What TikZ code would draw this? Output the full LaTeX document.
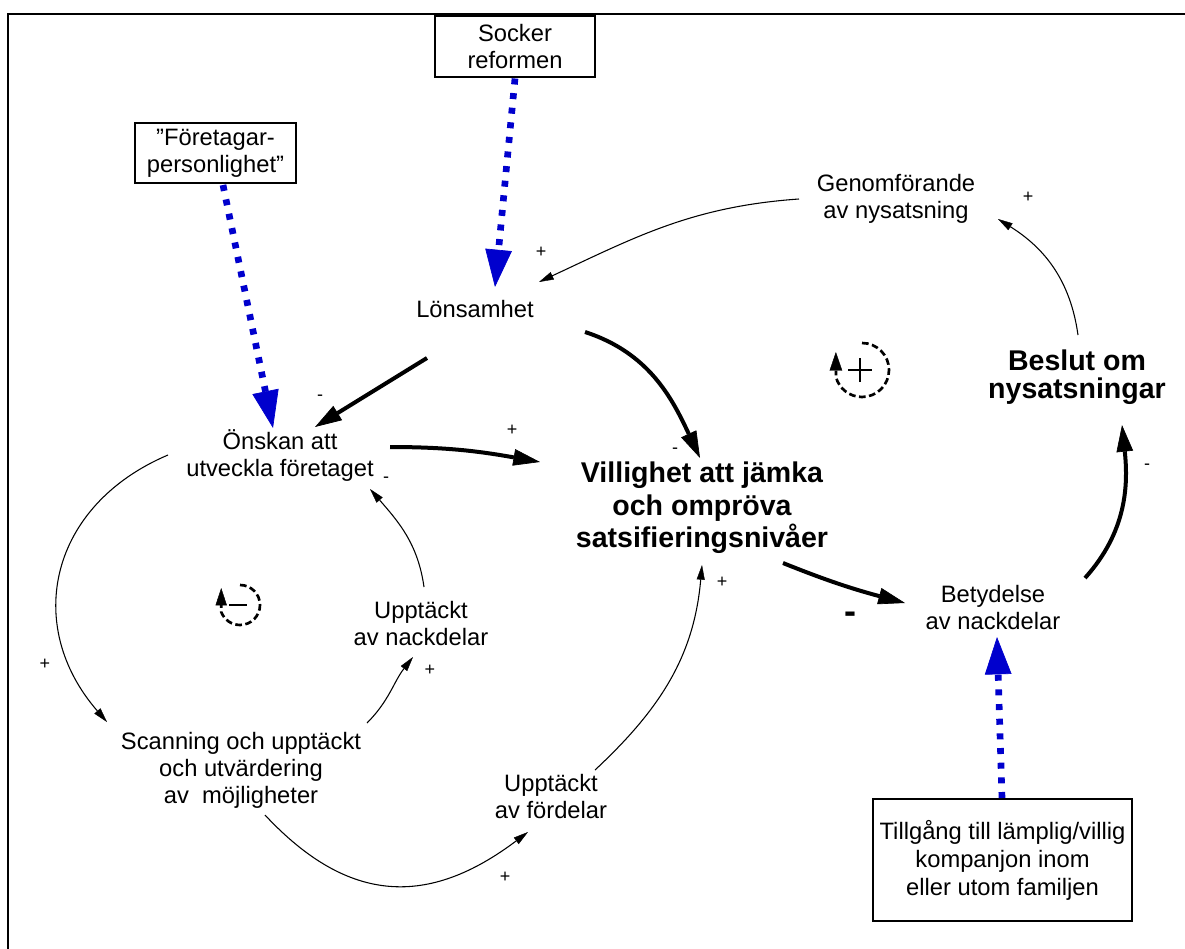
\documentclass[tikz,border=0pt]{standalone}
\usepackage{fontspec}
\setmainfont{Liberation Sans}
\usetikzlibrary{arrows.meta,calc}
\definecolor{dblue}{RGB}{0,0,205}
\begin{document}
\begin{tikzpicture}[x=0.75pt,y=-0.75pt,
  txt/.style={align=center,inner sep=0pt,font=\fontsize{17.8}{20.25}\selectfont},
  boldtxt/.style={align=center,inner sep=0pt,font=\fontsize{21.4}{21}\selectfont\bfseries},
  boxed/.style={draw,line width=1pt,align=center,inner sep=0pt,font=\fontsize{17.8}{20.25}\selectfont},
  lbl/.style={inner sep=0pt,font=\fontsize{13.5}{13.5}\selectfont},
  thickarr/.style={line width=3pt,-{Triangle[length=20pt,width=12.5pt,line width=0.5pt]}},
  thinarr/.style={line width=0.8pt,-{Triangle[length=11pt,width=6pt,line width=0.3pt]}},
  bluearr/.style={dblue,line width=5pt,dash pattern=on 4.5pt off 6.5pt,-{Triangle[length=28pt,width=20pt,line width=0.5pt]}},
  loopsym/.style={line width=2pt,dash pattern=on 5pt off 2.6pt}
]
\useasboundingbox (0,0) rectangle (1185,949);
% frame
\draw[line width=2pt] (8,949) -- (8,14) -- (1185,14);

% boxes
\node[boxed,minimum width=120pt,minimum height=45.75pt] (soc) at (515,46.5) {Socker\\reformen};
\node[boxed,minimum width=120.75pt,minimum height=45pt] (fp) at (215.5,153) {\symbol{34}Företagar-\\personlighet\symbol{34}};
\node[boxed,minimum width=194.25pt,minimum height=91.5pt,font=\fontsize{17.8}{21}\selectfont] (till) at (1002.5,860) {Tillgång till lämplig/villig\\kompanjon inom\\eller utom familjen};

% variables
\node[txt] (lons) at (475,309) {Lönsamhet};
\node[txt] (gen) at (896,199) {Genomförande\\av nysatsning};
\node[boldtxt] (bes) at (1077,377) {Beslut om\\nysatsningar};
\node[boldtxt,font=\fontsize{21.4}{24.5}\selectfont\bfseries] (vill) at (702,508) {Villighet att jämka\\och ompröva\\satsifieringsnivåer};
\node[txt] (ons) at (280,456) {Önskan att\\utveckla företaget};
\node[txt] (scan) at (241,770) {Scanning och upptäckt\\och utvärdering\\av~ möjligheter};
\node[txt] (upn) at (421,624) {Upptäckt\\av nackdelar};
\node[txt] (upf) at (551,797) {Upptäckt\\av fördelar};
\node[txt] (bet) at (993,608) {Betydelse\\av nackdelar};

% exogenous (blue) links
\draw[bluearr] ([shift={(7.5,32)}]fp.center) -- ([shift={(-7,-28)}]ons.center);
\draw[bluearr] ([shift={(0,32)}]soc.center) -- ([shift={(20,-22)}]lons.center);
\draw[bluearr] ([shift={(-0.5,-62)}]till.center) -- ([shift={(4,29)}]bet.center);

% thick links
\draw[thickarr] ([shift={(-48,49)}]lons.center) -- ([shift={(35,-29)}]ons.center);
\draw[thickarr] ([shift={(110,23)}]lons.center) to[out=-18,in=115] ([shift={(-2,-50)}]vill.center);
\draw[thickarr] ([shift={(110,-9)}]ons.center) to[out=0,in=170] ([shift={(-162,-46)}]vill.center);
\draw[thickarr] ([shift={(81,55)}]vill.center) to[out=-22,in=165] ([shift={(-88,-5)}]bet.center);
\draw[thickarr] ([shift={(92,-30)}]bet.center) to[out=48,in=-84] ([shift={(45,48)}]bes.center);

% thin links
\draw[thinarr] ([shift={(1,-42)}]bes.center) to[out=98,in=-32] ([shift={(102,20)}]gen.center);
\draw[thinarr] ([shift={(-97,0)}]gen.center) to[out=184,in=25] ([shift={(64,-27)}]lons.center);
\draw[thinarr] ([shift={(-112,-1)}]ons.center) to[out=203,in=131,looseness=1.2] ([shift={(-134,-48)}]scan.center);
\draw[thinarr] ([shift={(126,-47)}]scan.center) to[out=45,in=232] ([shift={(-8,33)}]upn.center);
\draw[thinarr] ([shift={(3,-37)}]upn.center) to[out=98,in=-49] ([shift={(90,33)}]ons.center);
\draw[thinarr] ([shift={(24,45)}]scan.center) to[out=-47,in=217,looseness=1.2] ([shift={(-23,35)}]upf.center);
\draw[thinarr] ([shift={(44,-27)}]upf.center) to[out=43,in=-95] ([shift={(0,57)}]vill.center);

% polarity labels
\node[lbl] (p1) at (541,252) {+};
\node[lbl] (p2) at (1028,197) {+};
\node[lbl] (p3) at (512,430) {+};
\node[lbl] (p4) at (45,664) {+};
\node[lbl] (p5) at (430,670) {+};
\node[lbl] (p6) at (505,877) {+};
\node[lbl] (p7) at (722,582) {+};
\node[lbl] (m1) at (320,398) {-};
\node[lbl] (m2) at (675,451) {-};
\node[lbl] (m3) at (1147,467) {-};
\node[lbl] (m4) at (386,480) {-};
\node[lbl,font=\fontsize{27}{27}\selectfont\bfseries] (m5) at (850,618) {-};

% loop symbols
\begin{scope}[shift={(240,605)},x=1pt,y=1pt]
  \draw[loopsym,-{Triangle[length=13pt,width=8.5pt,line width=0.3pt]}] (90:15) arc[start angle=90,end angle=-160,radius=15] -- (-14.1,12.75);
  \draw[line width=1.9pt] (-8.25,0) -- (4.9,0);
\end{scope}
\begin{scope}[shift={(862,370)},x=1pt,y=1pt]
  \draw[loopsym,-{Triangle[length=14pt,width=9.5pt,line width=0.3pt]}] (90:20.25) arc[start angle=90,end angle=-165,radius=20.25] -- (-19.6,13.5);
  \draw[line width=2.2pt] (-10.5,0) -- (7.5,0) (-1.5,-9) -- (-1.5,9);
\end{scope}
\end{tikzpicture}
\end{document}
